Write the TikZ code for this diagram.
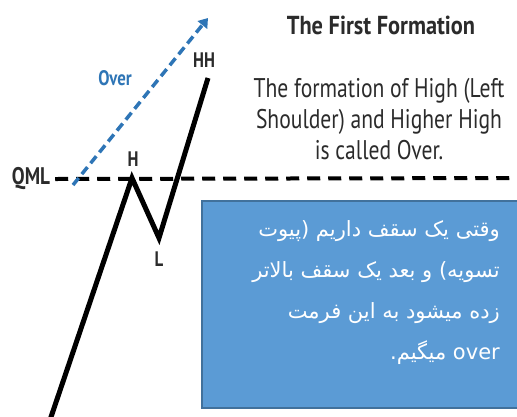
\documentclass[tikz,border=0pt]{standalone}
\usepackage{fontspec}
\setmainfont{PT Sans}
\newfontfamily\condfont[FakeStretch=0.8]{PT Sans}
\newfontfamily\titlefont[FakeStretch=0.86]{PT Sans}
\newfontfamily\farsifont[Script=Arabic]{DejaVu Sans}
\TeXXeTstate=1
\usetikzlibrary{arrows.meta, positioning}
\definecolor{overblue}{HTML}{2E75B6}
\definecolor{boxblue}{HTML}{5B9BD5}
\definecolor{boxedge}{HTML}{41719C}
\definecolor{inkgray}{HTML}{2B2B2B}

\begin{document}
\begin{tikzpicture}[
    x=1pt, y=-1pt,
    lbl/.style={font=\condfont\bfseries\fontsize{21}{21}\selectfont, text=inkgray, inner sep=0pt},
    price/.style={draw, line width=5pt, line join=miter, black},
    qml/.style={draw, line width=4pt, dash pattern=on 13pt off 8pt, black},
    over/.style={draw, line width=3.5pt, dash pattern=on 9pt off 5pt, overblue, -{Triangle[length=9pt, width=12pt]}},
    title/.style={font=\titlefont\bfseries\fontsize{26}{26}\selectfont, text=inkgray, inner sep=0pt},
    desc/.style={font=\condfont\fontsize{27}{31}\selectfont, text=inkgray, align=center, inner sep=0pt},
    farsibox/.style={draw=boxedge, line width=1.5pt, fill=boxblue, minimum width=320pt, minimum height=207pt, inner sep=0pt},
    farsitext/.style={font=\farsifont\fontsize{21}{41}\selectfont, text=white, align=right, inner sep=0pt}]
  \useasboundingbox (0,0) rectangle (517,416);
  \coordinate (start) at (50,420);
  \coordinate (h) at (132,178);
  \coordinate (l) at (159,238);
  \coordinate (hh) at (208,78);
  \coordinate (qmlend) at (520,178);
  \coordinate (overstart) at (73,185);
  \coordinate (overtip) at (208,18);
  \node[lbl, font=\condfont\bfseries\fontsize{24}{24}\selectfont] (qmltext) at (31,179) {QML};
  \draw[qml] (qmltext.east) ++(5pt,0) coordinate (qmlstart) -- (qmlend);
  \draw[over] (overstart) -- (overtip);
  \draw[price] (start) -- (h) -- (l) -- (hh);
  \node[lbl] (hlbl) at (133,159) {H};
  \node[lbl] (llbl) at (159,259) {L};
  \node[lbl] (hhlbl) at (204,60) {HH};
  \node[lbl, text=overblue] (overlbl) at (115,78) {Over};
  \node[title] (ttl) at (381,25) {The First Formation};
  \node[desc] (para) at (379,119) {The formation of High (Left\\Shoulder) and Higher High\\is called Over.};
  \node[farsibox, anchor=north west] (box) at (201,200) {};
  \node[farsitext, anchor=north east] (farsi) at (500,220) {%
    \beginR وقتی یک سقف داریم (پیوت\endR\\
    \beginR تسویه) و بعد یک سقف بالاتر\endR\\
    \beginR زده میشود به این فرمت\endR\\
    \beginR \beginL over\endL{} میگیم.\endR};
\end{tikzpicture}
\end{document}
